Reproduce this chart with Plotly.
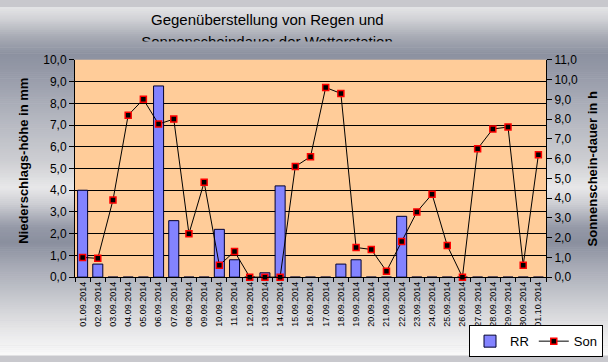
import plotly.graph_objects as go

# ---------------- data ----------------
dates = ["01.09.2014", "02.09.2014", "03.09.2014", "04.09.2014", "05.09.2014",
         "06.09.2014", "07.09.2014", "08.09.2014", "09.09.2014", "10.09.2014",
         "11.09.2014", "12.09.2014", "13.09.2014", "14.09.2014", "15.09.2014",
         "16.09.2014", "17.09.2014", "18.09.2014", "19.09.2014", "20.09.2014",
         "21.09.2014", "22.09.2014", "23.09.2014", "24.09.2014", "25.09.2014",
         "26.09.2014", "27.09.2014", "28.09.2014", "29.09.2014", "30.09.2014",
         "01.10.2014"]
rr = [4.0, 0.6, 0, 0, 0, 8.8, 2.6, 0, 0, 2.2,
      0.8, 0, 0.2, 4.2, 0, 0, 0, 0.6, 0.8, 0,
      0, 2.8, 0, 0, 0, 0, 0, 0, 0, 0,
      0]
son = [1.0, 0.95, 3.9, 8.2, 9.0, 7.75, 8.0, 2.2, 4.8, 0.6,
       1.3, 0.0, 0.0, 0.0, 5.6, 6.1, 9.6, 9.3, 1.5, 1.4,
       0.3, 1.8, 3.3, 4.2, 1.6, 0.0, 6.5, 7.5, 7.6, 0.6,
       6.2]
title_line1 = "Gegenüberstellung von Regen und"
title_line2 = "Sonnenscheindauer der Wetterstation"
y1_title = "Niederschlags-höhe in mm"
y2_title = "Sonnenschein-dauer in h"

# ---------------- layout constants ----------------
W, H = 608, 362
PL, PR, PT, PB = 75, 546, 55, 281          # plot area in pixels
FONT = "Arial, Liberation Sans, sans-serif"

def px_x(px):
    return px / W

def px_y(py):
    return 1 - py / H

# background metallic gradient stops (pixel y, r, g, b)
grad = [(0, 228, 228, 230), (12, 210, 211, 215), (30, 170, 173, 182),
        (48, 140, 145, 160), (70, 150, 154, 168), (110, 176, 179, 189),
        (160, 205, 206, 210), (188, 232, 232, 233), (205, 205, 206, 211),
        (228, 150, 154, 168), (245, 138, 143, 158), (268, 165, 168, 180),
        (300, 196, 198, 204), (330, 226, 226, 228), (362, 250, 250, 250)]

def grad_color(py):
    for i in range(len(grad) - 1):
        a, b = grad[i], grad[i + 1]
        if a[0] <= py <= b[0]:
            t = (py - a[0]) / (b[0] - a[0])
            c = [round(a[k] + (b[k] - a[k]) * t) for k in (1, 2, 3)]
            return "rgb(%d,%d,%d)" % tuple(c)
    return "rgb(250,250,250)"

shapes = []
step = 2
for py in range(0, H, step):
    shapes.append(dict(type="rect", xref="paper", yref="paper",
                       x0=0, x1=1, y0=px_y(py + step + 0.5), y1=px_y(py),
                       fillcolor=grad_color(py + step / 2), line=dict(width=0),
                       layer="below"))
# plot area fill
shapes.append(dict(type="rect", xref="paper", yref="paper",
                   x0=px_x(PL), x1=px_x(PR), y0=px_y(PB), y1=px_y(PT),
                   fillcolor="#FFCC99", line=dict(width=0), layer="below"))

fig = go.Figure()

fig.add_trace(go.Bar(
    x=dates, y=rr, name="RR", yaxis="y", xaxis="x",
    marker=dict(color="#9090FF",
                line=dict(color="#000030", width=1),
                pattern=dict(shape=".", fgcolor="#0000FF", bgcolor="#A8A8FF",
                             size=2, solidity=0.5)),
))

fig.add_trace(go.Scatter(
    x=dates, y=son, name="Son", yaxis="y2", xaxis="x",
    mode="lines+markers", cliponaxis=False,
    line=dict(color="black", width=1),
    marker=dict(symbol="square", size=6, color="black",
                line=dict(color="#FF0000", width=1.5)),
))

# clipped second title line (only its upper part is visible in the reference)
fig.add_trace(go.Scatter(
    x=[267], y=[37.5], xaxis="x3", yaxis="y3", mode="text",
    text=[title_line2], textposition="middle center", cliponaxis=True,
    textfont=dict(family=FONT, size=15, color="black"),
    showlegend=False, hoverinfo="skip",
))

fig.update_layout(
    width=W, height=H,
    margin=dict(l=0, r=0, t=0, b=0),
    paper_bgcolor="rgb(200,200,205)",
    plot_bgcolor="rgba(0,0,0,0)",
    font=dict(family=FONT, size=12, color="black"),
    separators=",.",
    bargap=0.34,
    showlegend=True,
    legend=dict(orientation="h", x=px_x(603), xanchor="right",
                y=px_y(331), yanchor="top",
                bgcolor="white", bordercolor="black", borderwidth=1,
                font=dict(family=FONT, size=13, color="black"),
                itemwidth=30, tracegroupgap=0),
    xaxis=dict(domain=[px_x(PL), px_x(PR)], anchor="y",
               type="category", range=[-0.5, len(dates) - 0.5],
               tickson="boundaries", ticks="outside", ticklen=4,
               tickcolor="black", showline=True, linecolor="black",
               linewidth=1, tickangle=-90, showgrid=False,
               tickfont=dict(family=FONT, size=9, color="black")),
    yaxis=dict(domain=[px_y(PB), px_y(PT)], anchor="x",
               range=[0, 10], dtick=1, tickformat=".1f",
               ticks="outside", ticklen=5, tickcolor="black",
               showline=True, linecolor="black", linewidth=1,
               showgrid=True, gridcolor="black", gridwidth=1,
               zeroline=False,
               tickfont=dict(family=FONT, size=12, color="black")),
    yaxis2=dict(overlaying="y", side="right", anchor="x",
                range=[0, 11], dtick=1, tickformat=".1f",
                ticks="outside", ticklen=5, tickcolor="black",
                showline=True, linecolor="black", linewidth=1,
                showgrid=False, zeroline=False,
                tickfont=dict(family=FONT, size=12, color="black")),
    xaxis3=dict(domain=[0, 1], anchor="y3", range=[0, W], visible=False),
    yaxis3=dict(domain=[px_y(36), 1], anchor="x3", range=[36, 0],
                visible=False),
    shapes=shapes,
    annotations=[
        dict(text=title_line1, xref="paper", yref="paper",
             x=px_x(267), y=px_y(13.5), xanchor="center", yanchor="middle",
             showarrow=False, font=dict(family=FONT, size=15, color="black")),
        dict(text="<b>%s</b>" % y1_title, xref="paper", yref="paper",
             x=px_x(24), y=px_y(160), textangle=-90, xanchor="center",
             yanchor="middle", showarrow=False,
             font=dict(family=FONT, size=13, color="black")),
        dict(text="<b>%s</b>" % y2_title, xref="paper", yref="paper",
             x=px_x(592), y=px_y(169), textangle=-90, xanchor="center",
             yanchor="middle", showarrow=False,
             font=dict(family=FONT, size=13, color="black")),
    ],
)

fig.write_html("out.html",
               config={"displayModeBar": False},
               post_script="document.body.style.margin='0';"
                           "document.body.style.padding='0';"
                           "document.body.style.overflow='hidden';")
